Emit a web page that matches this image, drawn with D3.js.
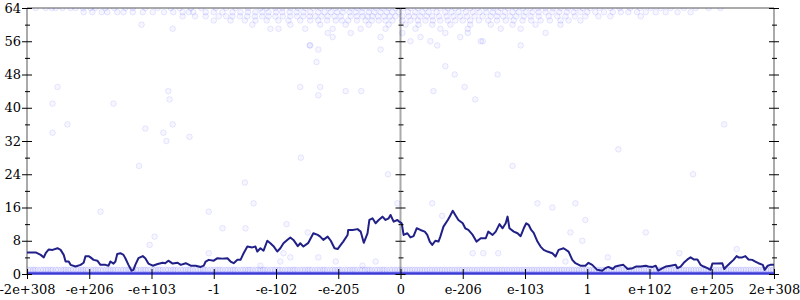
<!DOCTYPE html>
<html>
<head>
<meta charset="utf-8">
<script src="https://cdn.jsdelivr.net/npm/d3@7"></script>
<style>
body { margin: 0; background: #fff; }
svg { display: block; font-family: "DejaVu Serif", serif; }
</style>
</head>
<body>
<div id="chart"></div>
<script>
// x positions are in "axis units": one labelled step = 100
var xTicks = [-600, -500, -400, -300, -200, -100, 0, 100, 200, 300, 400, 500, 600];
var xLabels = ["-2e+308", "-e+206", "-e+103", "-1", "-e-102", "-e-205", "0",
               "e-206", "e-103", "1", "e+102", "e+205", "2e+308"];
var yTicks = [0, 8, 16, 24, 32, 40, 48, 56, 64];
var yMinor = [4, 12, 20, 28, 36, 44, 52, 60];

// running average line
var linePos = [-600,-586,-578,-573,-570,-565,-559,-551,-546,-541,-538,-533,-530,-522,-514,-509,-506,-501,-498,-493,
  -487,-482,-474,-469,-466,-461,-458,-455,-450,-445,-442,-437,-432,-429,-426,-421,-414,-410,-405,-398,
  -390,-382,-378,-373,-366,-358,-353,-345,-337,-329,-321,-316,-313,-308,-300,-294,-286,-278,-273,-268,
  -262,-257,-252,-246,-238,-233,-230,-225,-220,-214,-209,-204,-198,-193,-188,-182,-177,-172,-165,-161,
  -156,-148,-140,-133,-129,-124,-117,-112,-106,-101,-96,-92,-85,-84,-77,-69,-64,-59,-53,-50,
  -45,-40,-35,-29,-24,-19,-16,-11,-5,-2,2,5,11,16,21,26,32,39,43,47,
  51,56,61,64,69,76,79,84,88,93,100,104,109,116,122,129,137,141,148,153,
  159,164,169,172,175,182,188,193,198,202,206,210,214,220,225,230,236,244,249,254,
  262,270,276,281,289,297,302,308,316,324,329,334,341,345,350,358,365,373,378,386,
  394,398,405,410,414,421,426,434,442,445,450,455,461,466,471,477,482,487,493,498,
  501,509,517,520,525,530,535,540,543,549,554,559,565,570,575,582,585,590,594,600];
var lineVal = [5.2,5.2,4.6,4.0,5.0,5.9,5.8,6.2,5.8,4.6,3.0,3.0,2.2,1.8,2.2,2.7,4.3,4.3,4.0,3.4,
  3.2,2.2,2.2,2.0,3.0,2.5,3.0,4.8,5.0,4.6,3.8,2.2,0.8,1.0,2.2,3.8,4.3,3.8,2.5,2.0,
  2.4,2.7,2.6,3.2,2.5,2.7,2.2,2.6,2.0,2.0,1.7,2.0,3.0,3.4,3.2,3.8,3.7,3.8,3.0,2.6,
  3.4,3.4,5.0,6.6,6.4,6.6,5.4,6.2,5.6,8.0,7.4,6.7,5.4,6.2,7.4,8.2,8.8,8.2,6.7,7.4,
  6.6,7.5,9.8,9.4,9.0,8.2,9.0,8.0,6.2,6.0,7.0,7.8,9.4,10.6,10.6,10.8,10.2,7.5,9.8,13.0,
  13.4,12.2,13.0,13.8,13.0,13.4,14.2,12.6,13.0,12.6,12.2,9.4,9.8,8.8,9.1,11.0,10.6,10.2,9.4,7.8,
  7.0,8.0,7.8,9.0,11.4,13.0,13.8,15.2,14.2,13.0,12.2,11.0,10.6,9.4,7.8,8.6,8.6,10.2,9.4,10.2,
  12.0,11.0,12.2,13.8,11.0,10.2,9.8,9.1,11.0,12.2,11.8,10.6,9.9,7.8,6.6,5.8,5.4,5.0,4.2,5.8,
  6.2,5.4,3.4,2.6,2.0,2.0,2.7,2.2,1.0,0.8,1.4,1.7,1.2,1.8,2.0,2.2,1.2,1.4,1.8,1.8,
  2.0,1.8,1.7,2.0,0.8,1.4,1.8,2.0,2.2,1.4,1.8,2.7,3.5,4.0,3.5,3.5,2.2,1.8,1.4,1.0,
  2.5,2.5,2.6,1.2,2.0,2.7,3.4,4.3,4.0,4.0,4.3,3.5,3.4,3.0,2.6,2.2,1.0,2.0,2.2,2.2];

// samples that scored 0 and 1 (dense bands along the bottom)
var zeroPos = [-600,-596,-591,-587,-582,-577,-573,-568,-564,-559,-553,-549,-544,-540,-535,-530,-526,-521,-517,-511,
  -507,-502,-498,-493,-488,-484,-479,-474,-470,-465,-461,-456,-451,-447,-442,-437,-433,-428,-424,-419,
  -414,-410,-405,-401,-396,-391,-387,-382,-377,-373,-368,-364,-359,-354,-350,-345,-341,-336,-331,-327,
  -322,-318,-313,-308,-304,-299,-295,-290,-285,-281,-276,-272,-267,-262,-258,-253,-249,-244,-239,-235,
  -230,-226,-221,-216,-212,-207,-203,-198,-193,-189,-184,-180,-175,-170,-166,-161,-157,-152,-147,-143,
  -138,-134,-129,-124,-120,-115,-111,-106,-101,-97,-92,-88,-83,-78,-74,-69,-65,-60,-55,-51,
  -46,-42,-37,-32,-28,-23,-19,-14,-9,-5,0,5,9,14,19,23,28,32,37,42,
  46,51,55,60,65,69,74,78,83,88,92,97,101,106,111,115,120,124,129,134,
  138,143,147,152,157,161,166,170,175,180,184,189,193,198,203,207,212,216,221,226,
  230,235,239,244,249,253,258,262,267,272,276,281,285,290,295,299,304,308,313,318,
  322,327,331,336,341,345,350,354,359,364,368,373,377,382,387,391,396,400,405,410,
  414,419,423,428,433,437,442,446,451,456,460,465,469,474,479,483,488,492,497,502,
  506,511,515,520,525,529,534,538,543,548,552,557,561,566,571,575,580,584,589,594,598];
var onePos = [-598,-590,-583,-574,-566,-559,-550,-541,-534,-526,-517,-510,-502,-493,-486,-478,-469,-462,-454,-445,
  -437,-430,-421,-413,-406,-397,-389,-382,-373,-365,-358,-349,-341,-334,-325,-317,-310,-301,-293,-286,
  -277,-269,-262,-253,-245,-238,-229,-221,-214,-205,-197,-190,-181,-173,-166,-157,-149,-142,-133,-125,
  -118,-109,-101,-94,-85,-77,-70,-61,-53,-46,-37,-29,-22,-13,-5,3,11,19,27,35,
  43,51,59,67,75,83,91,99,107,115,123,131,139,147,155,163,171,179,187,195,
  203,211,219,227,235,243,251,259,267,275,283,291,299,307,315,323,331,339,347,355,
  363,371,379,387,395,403,411,419,427,435,443,451,459,467,475,483,491,499,507,515,
  523,531,539,547,555,563,571,579,587,595,
  -594,-587,-578,-570,-562,-554,-545,-538,-530,-521,-513,-506,-497,-490,-482,-473,-466,-458,-449,-441,
  -434,-425,-417,-410,-401,-393,-386,-377,-369,-362,-353,-345,-338,-329,-321,-314,-305,-297,-290,-281,
  -273,-266,-257,-249,-242,-233,-225,-218,-209,-201,-194,-185,-177,-170,-161,-153,-146,-137,-129,-122,
  -113,-105,-98,-89,-81,-74,-65,-57,-50,-41,-33,-26,-17,-9,-1,7,15,23,31,39,
  47,55,63,71,79,87,95,103,111,119,127,135,143,151,159,167,175,183,191,199,
  207,215,223,231,239,247,255,263,271,279,287,295,303,311,319,327,335,343,351,359,
  367,375,383,391,399,407,415,423,431,439,447,455,463,471,479,487,495,503,511,519,
  527,535,543,551,559,567,575,583,591,599];

// samples near the top (rows 64 down to 59)
var top64 = [-586,-570,-554,-543,-522,-498,-474,-442,-410,-369,-337,-297,-265,-225,-201,-177,-153,-129,-104,-80,
  -61,-40,-19,16,40,64,88,112,137,161,185,209,233,257,281,305,337,369,402,434,474,514,
  -560,-530,-510,-490,-460,-430,-390,-355,-320,-280,-245,-215,-190,-165,-140,-115,-92,-70,-50,-30,
  -8,5,28,52,76,100,124,149,173,197,221,245,269,293,320,352,385,418,455,495];
var top63 = [-509,-495,-471,-455,-445,-414,-398,-365,-350,-333,-313,-286,-257,-233,-212,-190,-167,-145,-132,-112,
  -93,-72,-51,-32,-13,24,45,72,93,116,138,157,180,201,222,244,267,289,313,341,366,394,426,466,
  -480,-430,-380,-340,-300,-270,-245,-222,-200,-178,-156,-122,-102,-82,-62,-42,-22,-3,12,35,
  58,82,105,127,148,168,190,212,233,255,278,300,327,354,380,410,445];
var top62 = [-313,-292,-270,-246,-222,-201,-177,-156,-137,-117,-96,-80,-61,-45,-26,-8,13,32,51,74,
  96,119,145,165,186,209,238,265,297,337,386,
  -350,-330,-280,-258,-234,-212,-189,-166,-146,-127,-106,-70,-53,-36,-17,3,22,42,62,85,
  107,132,155,176,198,222,252,280,318];
var top61 = [-273,-233,-196,-161,-132,-104,-84,-56,-35,-13,16,40,64,88,112,141,169,196,225,257,289,
  -300,-250,-215,-180,-145,-118,-94,-70,-46,-24,3,28,52,76,100,126,155,182,210,240,270];
var top60 = [-416,-238,-177,-129,-88,-51,-19,8,29,51,80,112,145,180,217,257];
var top59 = [-366,-209,-196,-153,-109,-64,-24,24,64,108,161,193];

// scattered samples elsewhere [position, value]
var otherPts = [[-117,58],[-80,58],[3,58],[72,58],[108,58],[233,58],
  [-109,57],[-32,57],[32,57],[96,57],[16,56],[48,56],[129,56],[132,56],
  [-145,55],[-146,55],[59,55],[193,55],[-132,54],[-32,54],
  [-135,51],[72,50],[87,48],[156,48],[-161,45],[-129,45],[103,45],[-551,45],
  [-88,44],[-63,44],[53,44],[-373,44],[-132,43],[120,42],[-371,42],
  [-559,41],[-461,41],[-535,36],[-366,36],[-410,35],[-559,34],[-381,34],[-339,33],[-376,32],
  [-160,28],[-420,26],[180,26],[-20,24],[470,24],[-250,22],[350,30],[520,36],
  [-236,17],[-5,17],[51,17],[220,17],[281,17],[244,16],[-482,15],[-308,15],
  [67,14],[297,13],[-183,12],[-286,11],[-249,11],[-149,10],[273,10],[394,10],
  [-395,9],[292,8],[-403,7],[540,6],[-308,5],[-188,5],[116,5],[133,5],[157,5],[448,5],
  [-177,4],[-132,4],[333,4],[-193,3],[-104,3],[-40,3],[265,3],[-225,2],[-61,2]];

var W = 800, H = 300;
var mLeft = 27, mRight = 774, mTop = 8, mBottom = 274;

var x = d3.scaleLinear().domain([-600, 600]).range([mLeft, mRight]);
var y = d3.scaleLinear().domain([0, 64]).range([mBottom, mTop]);

var svg = d3.select("#chart").append("svg")
    .attr("width", W)
    .attr("height", H);

svg.append("rect").attr("width", W).attr("height", H).attr("fill", "#fff");

svg.append("clipPath").attr("id", "plot")
  .append("rect")
    .attr("x", mLeft).attr("y", mTop)
    .attr("width", mRight - mLeft).attr("height", mBottom - mTop);

// frame
var frame = svg.append("g").attr("stroke", "#aaa").attr("stroke-width", 2);
frame.append("line").attr("x1", mLeft).attr("x2", mRight).attr("y1", y(64)).attr("y2", y(64));
[-600, 0, 600].forEach(function(p) {
  frame.append("line").attr("x1", x(p)).attr("x2", x(p)).attr("y1", y(0)).attr("y2", y(64));
});

// points
var pts = [];
zeroPos.forEach(function(p) { pts.push([p, 0]); });
onePos.forEach(function(p) { pts.push([p, 1]); });
top64.forEach(function(p) { pts.push([p, 64]); });
top63.forEach(function(p) { pts.push([p, 63]); });
top62.forEach(function(p) { pts.push([p, 62]); });
top61.forEach(function(p) { pts.push([p, 61]); });
top60.forEach(function(p) { pts.push([p, 60]); });
top59.forEach(function(p) { pts.push([p, 59]); });
otherPts.forEach(function(d) { pts.push(d); });

svg.append("g")
    .attr("clip-path", "url(#plot)")
  .selectAll("circle")
  .data(pts)
  .enter()
  .append("circle")
    .attr("cx", d => x(d[0]))
    .attr("cy", d => y(d[1]))
    .attr("r", 2.8)
    .attr("fill", "#00f")
    .attr("fill-opacity", 0.035)
    .attr("stroke", "#00f")
    .attr("stroke-opacity", 0.09);

// the zero row is so overplotted that it reads as a solid blue line
svg.append("line")
    .attr("x1", mLeft).attr("x2", mRight)
    .attr("y1", y(0) - 0.5).attr("y2", y(0) - 0.5)
    .attr("stroke", "#3b3bd6")
    .attr("stroke-width", 2.5);

// running average
var line = d3.line()
    .x(function(d, i) { return x(linePos[i]); })
    .y(function(d) { return y(d); });

svg.append("path")
    .datum(lineVal)
    .attr("d", line)
    .attr("fill", "none")
    .attr("stroke", "#202088")
    .attr("stroke-width", 2)
    .attr("stroke-linejoin", "round");

// ticks
function clean(g) {
  g.select(".domain").remove();
  g.selectAll(".tick line").attr("stroke", "#000");
}

svg.append("g")
    .attr("transform", "translate(" + mLeft + ",0)")
    .call(d3.axisLeft(y).tickValues(yTicks).tickSize(5).tickPadding(1).tickFormat(d3.format("d")))
    .call(clean)
    .call(g => g.selectAll("text").attr("font-family", "DejaVu Serif").attr("font-size", 13).attr("fill", "#000"));

[-600, 0, 600].forEach(function(p) {
  var g = svg.append("g").attr("transform", "translate(" + x(p) + ",0)");
  if (p !== -600) {
    g.append("g").call(d3.axisLeft(y).tickValues(yTicks).tickSize(5).tickFormat("")).call(clean);
  }
  g.append("g").call(d3.axisRight(y).tickValues(yTicks).tickSize(5).tickFormat("")).call(clean);
  g.append("g").call(d3.axisLeft(y).tickValues(yMinor).tickSize(2).tickFormat("")).call(clean);
  g.append("g").call(d3.axisRight(y).tickValues(yMinor).tickSize(3).tickFormat("")).call(clean);
});

svg.append("g")
    .attr("transform", "translate(0," + mBottom + ")")
    .call(d3.axisBottom(x).tickValues(xTicks).tickSize(5).tickPadding(6)
      .tickFormat(function(d, i) { return xLabels[i]; }))
    .call(clean)
    .call(g => g.selectAll("text").attr("font-family", "DejaVu Serif").attr("font-size", 13).attr("fill", "#000"));

svg.append("g")
    .attr("transform", "translate(0," + mBottom + ")")
    .call(d3.axisTop(x).tickValues(xTicks).tickSize(5).tickFormat(""))
    .call(clean);
</script>
</body>
</html>
